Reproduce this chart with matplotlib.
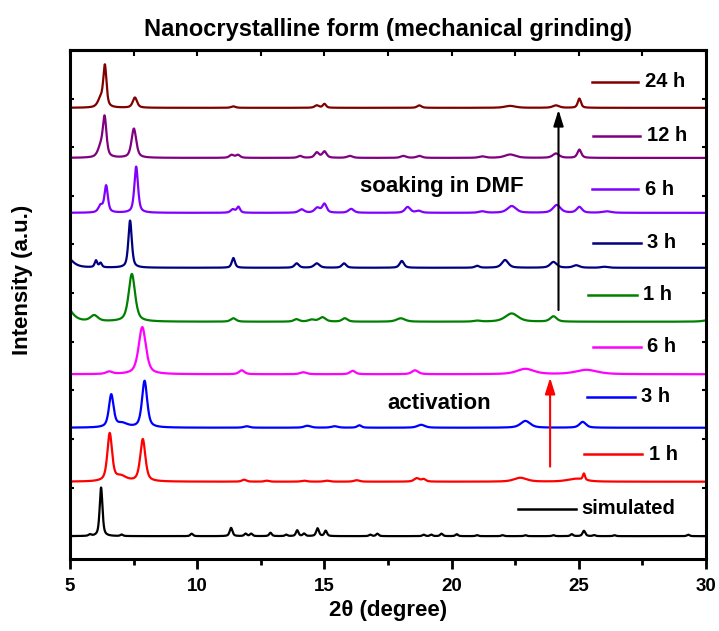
import numpy as np
import matplotlib
matplotlib.use("Agg")
import matplotlib.pyplot as plt
from matplotlib.ticker import MultipleLocator, NullFormatter

plt.rcParams['font.family'] = ['Liberation Sans', 'DejaVu Sans']
plt.rcParams['font.weight'] = 'bold'

# ---- data: peak tables (2theta, height, fwhm) for each pattern ----
sim_peaks = [(5.78, 0.03, 0.12), (6.22, 1.00, 0.13), (7.03, 0.03, 0.12), (9.78, 0.05, 0.12),
             (11.33, 0.17, 0.13), (11.90, 0.05, 0.12), (12.12, 0.05, 0.12), (12.88, 0.07, 0.12),
             (13.50, 0.03, 0.12), (13.93, 0.12, 0.12), (14.20, 0.05, 0.12), (14.73, 0.16, 0.13),
             (15.05, 0.11, 0.12), (16.80, 0.03, 0.12), (17.08, 0.05, 0.12), (18.90, 0.03, 0.12),
             (19.20, 0.03, 0.12), (19.60, 0.05, 0.12), (20.20, 0.04, 0.12), (21.00, 0.02, 0.12),
             (22.00, 0.02, 0.12), (22.90, 0.02, 0.12), (24.00, 0.02, 0.12), (24.72, 0.04, 0.12),
             (25.20, 0.11, 0.13), (25.60, 0.02, 0.12), (26.40, 0.02, 0.12), (29.30, 0.03, 0.12)]

act1_peaks = [(6.56, 0.98, 0.22), (7.00, 0.10, 0.50), (7.86, 0.87, 0.24), (11.84, 0.04, 0.20),
              (12.73, 0.02, 0.20), (14.20, 0.02, 0.25), (15.10, 0.02, 0.25), (16.27, 0.03, 0.25),
              (18.63, 0.07, 0.25), (18.90, 0.05, 0.20), (22.70, 0.08, 0.60), (24.90, 0.06, 0.80),
              (25.20, 0.13, 0.10)]

act3_peaks = [(6.62, 0.67, 0.22), (7.05, 0.08, 0.50), (7.93, 0.96, 0.24), (11.94, 0.03, 0.25),
              (14.33, 0.04, 0.30), (15.40, 0.03, 0.30), (16.37, 0.05, 0.20), (18.80, 0.06, 0.35),
              (22.90, 0.14, 0.45), (25.15, 0.12, 0.30)]

act6_peaks = [(6.54, 0.05, 0.30), (7.84, 0.97, 0.34), (11.75, 0.08, 0.25), (14.17, 0.04, 0.30),
              (16.11, 0.07, 0.25), (18.56, 0.08, 0.30), (22.90, 0.11, 0.80), (25.30, 0.09, 1.00)]

dmf1_peaks = [(4.80, 0.34, 0.60), (5.95, 0.12, 0.35), (7.43, 0.98, 0.30), (11.42, 0.07, 0.25),
              (13.90, 0.05, 0.25), (14.50, 0.04, 0.30), (14.92, 0.09, 0.30), (15.80, 0.07, 0.25),
              (18.00, 0.07, 0.40), (21.00, 0.02, 0.30), (22.36, 0.17, 0.60), (24.00, 0.11, 0.30),
              (30.30, 0.06, 0.60)]

dmf3_peaks = [(4.80, 0.26, 0.60), (6.02, 0.14, 0.12), (6.20, 0.09, 0.12), (7.36, 0.97, 0.16),
              (11.42, 0.20, 0.15), (13.91, 0.09, 0.20), (14.70, 0.09, 0.25), (15.77, 0.09, 0.20),
              (18.04, 0.14, 0.20), (21.00, 0.04, 0.20), (22.10, 0.16, 0.30), (24.00, 0.12, 0.30),
              (24.90, 0.05, 0.30), (26.00, 0.02, 0.30)]

dmf6_peaks = [(6.20, 0.14, 0.20), (6.42, 0.55, 0.16), (7.60, 0.95, 0.17), (11.40, 0.07, 0.20),
              (11.62, 0.12, 0.15), (14.10, 0.07, 0.25), (14.72, 0.10, 0.25), (15.00, 0.18, 0.20),
              (16.05, 0.08, 0.25), (18.27, 0.12, 0.25), (18.70, 0.04, 0.25), (21.20, 0.03, 0.30),
              (22.36, 0.14, 0.40), (24.13, 0.16, 0.35), (25.02, 0.12, 0.25), (26.10, 0.03, 0.40)]

dmf12_peaks = [(6.20, 0.20, 0.25), (6.36, 0.80, 0.17), (7.51, 0.60, 0.22), (11.35, 0.06, 0.20),
               (11.60, 0.06, 0.20), (14.04, 0.04, 0.20), (14.70, 0.11, 0.20), (15.00, 0.13, 0.20),
               (16.00, 0.04, 0.25), (18.10, 0.04, 0.25), (18.73, 0.04, 0.25), (21.20, 0.03, 0.30),
               (22.30, 0.07, 0.50), (24.10, 0.09, 0.30), (25.02, 0.17, 0.18)]

dmf24_peaks = [(6.20, 0.17, 0.25), (6.37, 0.84, 0.15), (7.55, 0.21, 0.20), (11.42, 0.03, 0.20),
               (14.70, 0.05, 0.20), (15.00, 0.08, 0.15), (18.73, 0.05, 0.20), (22.30, 0.04, 0.50),
               (24.10, 0.05, 0.30), (25.02, 0.19, 0.15)]

patterns = [sim_peaks, act1_peaks, act3_peaks, act6_peaks,
            dmf1_peaks, dmf3_peaks, dmf6_peaks, dmf12_peaks, dmf24_peaks]
offsets = [0.0, 1.12, 2.23, 3.33, 4.41, 5.52, 6.65, 7.78, 8.81]
colors = ['#000000', '#FF0000', '#0000FF', '#FF00FF',
          '#008000', '#000080', '#8000FF', '#800080', '#800000']
labels = ['simulated', '1 h', '3 h', '6 h', '1 h', '3 h', '6 h', '12 h', '24 h']

# label placement: (line start, line end, text x, y) in data units
label_pos = [(22.62, 24.89, 25.11, 0.56), (25.20, 27.50, 27.77, 1.68),
             (25.31, 27.21, 27.43, 2.87), (25.56, 27.45, 27.69, 3.90),
             (25.37, 27.27, 27.53, 4.97), (25.56, 27.45, 27.67, 6.04),
             (25.51, 27.34, 27.60, 7.14), (25.55, 27.40, 27.67, 8.24),
             (25.51, 27.34, 27.60, 9.35)]


def pattern_curve(x, peaks, eta=0.6):
    """Pseudo-Voigt sum over a peak table."""
    y = np.zeros_like(x)
    for c, h, w in peaks:
        d2 = (x - c) ** 2
        g = np.exp(-4 * np.log(2) * d2 / w ** 2)
        lz = (w / 2) ** 2 / (d2 + (w / 2) ** 2)
        y += h * (eta * lz + (1 - eta) * g)
    return y


two_theta = np.linspace(5, 30, 5001)

fig = plt.figure(figsize=(7.19, 6.31), dpi=100)
ax = fig.add_axes([0.0974, 0.1141, 0.8846, 0.8067])

for peaks, off, col in zip(patterns, offsets, colors):
    ax.plot(two_theta, pattern_curve(two_theta, peaks) + off, color=col, lw=1.6)

for (x0, x1, tx, ty), col, lab in zip(label_pos, colors, labels):
    ax.plot([x0, x1], [ty, ty], color=col, lw=1.8)
    ax.text(tx, ty, lab, fontsize=14.5, fontweight='bold', va='center', ha='left')

ax.text(17.47, 2.73, 'activation', fontsize=16, fontweight='bold', va='center', ha='left')
ax.text(16.40, 7.19, 'soaking in DMF', fontsize=16, fontweight='bold', va='center', ha='left')

ax.annotate('', xy=(23.87, 3.26), xytext=(23.87, 1.43),
            arrowprops=dict(arrowstyle='-|>,head_length=0.8,head_width=0.25',
                            color='red', lw=1.5, mutation_scale=12, shrinkA=0, shrinkB=0))
ax.annotate('', xy=(24.2, 8.77), xytext=(24.2, 4.65),
            arrowprops=dict(arrowstyle='-|>,head_length=0.8,head_width=0.25',
                            color='black', lw=1.5, mutation_scale=12, shrinkA=0, shrinkB=0))

ax.set_xlim(5, 30)
ax.set_ylim(-0.47, 10.0)
ax.xaxis.set_major_locator(MultipleLocator(5))
ax.xaxis.set_minor_locator(MultipleLocator(2.5))
ax.set_yticks(np.arange(0, 10))

# bottom ticks point outward, the other three sides inward
ax.tick_params(axis='x', which='both', direction='out', top=False, width=2)
ax.tick_params(axis='x', which='major', length=7, labelsize=13.5, pad=7)
ax.tick_params(axis='x', which='minor', length=4.5)
ax.tick_params(axis='y', which='major', direction='in', right=True, length=3,
               width=1.5, labelleft=False)
for lab in ax.get_xticklabels():
    lab.set_fontweight('bold')

top = ax.secondary_xaxis('top')
top.xaxis.set_major_locator(MultipleLocator(2.5))
top.xaxis.set_major_formatter(NullFormatter())
top.tick_params(direction='in', length=4, width=1.5)
top.spines['top'].set_linewidth(2.2)

for s in ax.spines.values():
    s.set_linewidth(2.2)

ax.set_xlabel('2θ (degree)', fontsize=16, fontweight='bold', labelpad=3)
ax.set_ylabel('Intensity (a.u.)', fontsize=16, fontweight='bold')
ax.yaxis.set_label_coords(-0.058, 0.548)
ax.set_title('Nanocrystalline form (mechanical grinding)', fontsize=17, fontweight='bold', pad=10)

fig.savefig('out.png', dpi=100)
